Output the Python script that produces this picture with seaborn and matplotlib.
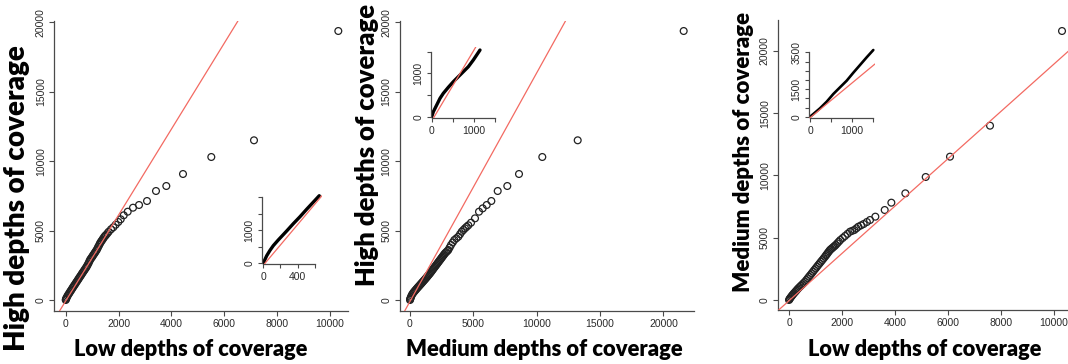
import matplotlib
matplotlib.use("Agg")
import matplotlib.pyplot as plt
import seaborn as sns
import pandas as pd

# ---------------- data ----------------
# Panel 1: Low (x) vs High (y) quantiles
p1_low = [0, 10, 25, 45, 70, 100, 130, 163, 195, 225, 258, 288, 320, 352, 385, 417, 450, 480,
          510, 542, 575, 605, 635, 667, 700, 730, 765, 795, 825, 860, 890, 920, 950, 985, 1015,
          1045, 1080, 1110, 1140, 1174, 1205, 1235, 1270, 1299, 1330, 1360, 1395, 1424, 1460,
          1495, 1527, 1580, 1629, 1716, 1803, 1894, 1992, 2083, 2197, 2348, 2549, 2777, 3080,
          3420, 3811, 4443, 5515, 7132, 10326]
p1_high = [0, 60, 130, 200, 300, 390, 480, 580, 670, 760, 860, 950, 1040, 1130, 1225, 1317, 1410,
           1500, 1590, 1677, 1770, 1860, 1950, 2037, 2130, 2220, 2310, 2400, 2510, 2630, 2760,
           2880, 2970, 3060, 3150, 3240, 3330, 3420, 3510, 3600, 3720, 3840, 3960, 4082, 4170,
           4260, 4350, 4442, 4540, 4620, 4680, 4800, 4917, 5090, 5234, 5422, 5615, 5810, 6098,
           6357, 6645, 6839, 7127, 7847, 8207, 9071, 10295, 11497, 19366]

# Panel 2: Medium (x) vs High (y) quantiles
p2_medium = [0, 15, 40, 80, 130, 190, 260, 330, 395, 460, 525, 590, 655, 720, 789, 855, 920, 985,
             1050, 1115, 1184, 1250, 1315, 1380, 1445, 1510, 1579, 1645, 1710, 1775, 1840, 1905,
             1973, 2040, 2105, 2170, 2235, 2300, 2368, 2435, 2500, 2565, 2630, 2695, 2762, 2850,
             2940, 3025, 3130, 3236, 3370, 3499, 3660, 3814, 3950, 4081, 4210, 4341, 4470, 4603,
             4815, 5130, 5446, 5737, 6054, 6420, 6922, 7680, 8603, 10442, 13236, 21600]
p2_high = [0, 60, 130, 220, 330, 430, 520, 600, 672, 740, 810, 880, 945, 1010, 1080, 1150, 1215,
           1285, 1350, 1420, 1488, 1560, 1630, 1700, 1775, 1845, 1920, 2000, 2080, 2160, 2240,
           2320, 2400, 2480, 2560, 2640, 2720, 2800, 2880, 2960, 3040, 3120, 3200, 3280, 3362,
           3440, 3520, 3600, 3780, 3960, 4140, 4320, 4440, 4557, 4740, 4917, 5040, 5162, 5270,
           5378, 5565, 5878, 6357, 6597, 6839, 7127, 7847, 8207, 9071, 10295, 11497, 19366]

# Panel 3: Low (x) vs Medium (y) quantiles
p3_low = [0, 20, 38, 70, 100, 130, 163, 200, 240, 275, 313, 351, 400, 450, 500, 552, 604, 655,
          705, 755, 806, 856, 906, 956, 1006, 1056, 1106, 1156, 1206, 1257, 1307, 1358, 1396,
          1434, 1471, 1509, 1547, 1590, 1633, 1676, 1719, 1762, 1820, 1878, 1936, 2025, 2113,
          2208, 2302, 2384, 2466, 2542, 2617, 2718, 2818, 2938, 3057, 3258, 3611, 3862, 4390,
          5158, 6075, 7585, 10302]
p3_medium = [0, 70, 134, 230, 310, 395, 481, 570, 665, 750, 845, 937, 1040, 1145, 1250, 1360,
             1471, 1605, 1740, 1875, 2005, 2140, 2275, 2410, 2540, 2675, 2809, 2940, 3075, 3205,
             3340, 3475, 3585, 3690, 3800, 3905, 4013, 4093, 4173, 4253, 4333, 4414, 4548, 4680,
             4815, 4975, 5136, 5310, 5482, 5550, 5618, 5750, 5883, 5990, 6100, 6260, 6421, 6688,
             7223, 7811, 8561, 9872, 11503, 13990, 21589]

# Inset (zoom on low range) curves
ins1_low = [0, 40, 78, 116, 174, 272, 349, 427, 504, 581, 651]
ins1_high = [0, 222, 384, 525, 697, 970, 1191, 1403, 1627, 1842, 2039]
ins2_medium = [0, 39, 118, 196, 274, 392, 510, 628, 746, 864, 982, 1139]
ins2_high = [0, 115, 270, 424, 540, 679, 808, 924, 1039, 1155, 1310, 1540]
ins3_low = [0, 79, 237, 395, 552, 711, 869, 1026, 1185, 1343, 1500]
ins3_medium = [0, 147, 457, 815, 1234, 1598, 1957, 2391, 2810, 3228, 3625]

# Reference (red) lines: slope and intercept per panel
red_slope = [3.09, 1.645, 1.9]
red_intercept = [-70, -100, -60]

# Text
x_titles = ["Low depths of coverage", "Medium depths of coverage", "Low depths of coverage"]
y_titles = ["High depths of coverage", "High depths of coverage", "Medium depths of coverage"]

# Ticks
main_xticks = [[0, 2000, 4000, 6000, 8000, 10000],
               [0, 5000, 10000, 15000, 20000],
               [0, 2000, 4000, 6000, 8000, 10000]]
main_yticks = [0, 5000, 10000, 15000, 20000]
ins_xticks = [[0, 200, 400, 600], [0, 500, 1000, 1500], [0, 500, 1000, 1500]]
ins_xlabels = [["0", "", "400", ""], ["0", "", "1000", ""], ["0", "", "1000", ""]]
ins_yticks = [[0, 500, 1000, 1500, 2000], [0, 500, 1000, 1500],
              [0, 500, 1000, 1500, 2000, 2500, 3000, 3500]]
ins_ylabels = [["0", "", "1000", "", ""], ["0", "", "1000", ""],
               ["0", "", "", "1500", "", "", "", "3500"]]

# ---------------- style / layout ----------------
sns.set_theme(style="ticks")
plt.rcParams["font.family"] = ["Liberation Sans", "DejaVu Sans"]

W, H = 1068, 364
fig = plt.figure(figsize=(W / 100, H / 100), dpi=100)
fig.patch.set_facecolor("white")

SPINE = "#4a4a4a"
TXT = "#2a2a2a"
PT = "#222222"
RED = "#f36a62"


def add_ax(l, r, b, t):
    return fig.add_axes([l / W, 1 - b / H, (r - l) / W, (b - t) / H])


main_boxes = [(54.3, 348, 311, 21), (400, 694, 311, 21), (778.3, 1075, 310, 20)]
main_xlim = [(-432, 10693), (-789, 22415), (-404, 10792)]
main_ylim = [(-792, 20086), (-792, 20086), (-803, 22472)]

ins_boxes = [(262, 322, 264, 194), (431, 497, 118.3, 47), (809, 875, 118.3, 48)]
ins_xlim = [(-15, 683), (-16.5, 1540), (-24, 1540)]
ins_ylim = [(-30, 2091), (-37, 1610), (-87, 3734)]
ins_lw = [2.4, 2.4, 1.9]

main_data = [(p1_low, p1_high), (p2_medium, p2_high), (p3_low, p3_medium)]
ins_data = [(ins1_low, ins1_high), (ins2_medium, ins2_high), (ins3_low, ins3_medium)]


def style_axes(ax, tick_len, fs):
    sns.despine(ax=ax)
    for s in ("left", "bottom"):
        ax.spines[s].set_color(SPINE)
        ax.spines[s].set_linewidth(0.9)
    ax.set_facecolor("none")
    ax.grid(False)
    ax.tick_params(direction="out", length=tick_len, width=0.8, color=SPINE,
                   labelsize=fs, labelcolor=TXT, pad=2.5)


for i in range(3):
    ax = add_ax(*main_boxes[i])
    xs, ys = main_data[i]
    df = pd.DataFrame({"x": xs, "y": ys})
    sns.scatterplot(data=df, x="x", y="y", ax=ax, s=24, marker="o",
                    facecolor="none", edgecolor=PT, linewidth=0.9, zorder=2)
    ax.axline((0, red_intercept[i]), slope=red_slope[i], color=RED, lw=0.9, zorder=3)
    ax.set_xlim(*main_xlim[i])
    ax.set_ylim(*main_ylim[i])
    style_axes(ax, 3.6, 7.5)
    ax.set_xticks(main_xticks[i])
    ax.set_xticklabels([str(v) for v in main_xticks[i]])
    ax.set_yticks(main_yticks)
    ax.set_yticklabels([str(v) for v in main_yticks], rotation=90, va="center")
    ax.set_xlabel("")
    ax.set_ylabel("")

    ia = add_ax(*ins_boxes[i])
    ixs, iys = ins_data[i]
    idf = pd.DataFrame({"x": ixs, "y": iys})
    sns.lineplot(data=idf, x="x", y="y", ax=ia, sort=False, estimator=None,
                 color="black", lw=ins_lw[i], zorder=2, solid_capstyle="round")
    ia.axline((0, red_intercept[i]), slope=red_slope[i], color=RED, lw=0.9, zorder=3)
    ia.set_xlim(*ins_xlim[i])
    ia.set_ylim(*ins_ylim[i])
    style_axes(ia, 2.9, 7.5)
    ia.set_xticks(ins_xticks[i])
    ia.set_xticklabels(ins_xlabels[i])
    ia.set_yticks(ins_yticks[i])
    ia.set_yticklabels(ins_ylabels[i], rotation=90, va="center")
    ia.spines["bottom"].set_bounds(ins_xticks[i][0], ins_xticks[i][-1])
    ia.spines["left"].set_bounds(ins_yticks[i][0], ins_yticks[i][-1])
    ia.set_xlabel("")
    ia.set_ylabel("")

# ---------------- axis titles (big bold) ----------------
title_font = ["Lato", "DejaVu Sans"]
# (text, x_px, y_px, rotation, target length px)
title_specs = [
    (x_titles[0], 191, 350, 0, 234),
    (y_titles[0], 17, 198, 90, 305),
    (x_titles[1], 544, 350, 0, 278),
    (y_titles[1], 367, 145, 90, 282),
    (x_titles[2], 924.5, 350, 0, 235),
    (y_titles[2], 743, 152.5, 90, 281),
]
texts = []
for txt, xp, yp, rot, target in title_specs:
    t = fig.text(xp / W, 1 - yp / H, txt, rotation=rot, ha="center", va="center",
                 fontsize=16, fontweight="heavy", family=title_font, color="black")
    texts.append((t, rot, target))

fig.canvas.draw()
renderer = fig.canvas.get_renderer()
for t, rot, target in texts:
    bb = t.get_window_extent(renderer)
    length = bb.width if rot == 0 else bb.height
    t.set_fontsize(t.get_fontsize() * target / length)

fig.savefig("out.png", dpi=100, facecolor="white")
